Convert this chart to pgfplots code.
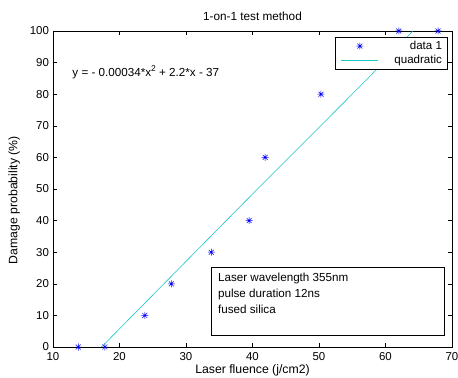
\documentclass[border=0pt]{standalone}
\usepackage{pgfplots}
\pgfplotsset{compat=1.18}
\usepackage{fontspec}
\setmainfont{Liberation Sans}
\definecolor{mblue}{rgb}{0,0,1}
\definecolor{mcyan}{rgb}{0.1,0.78,0.78}
\pgfdeclareplotmark{mstar}{%
  \pgfpathmoveto{\pgfqpoint{-\pgfplotmarksize}{0pt}}\pgfpathlineto{\pgfqpoint{\pgfplotmarksize}{0pt}}%
  \pgfpathmoveto{\pgfqpoint{0pt}{-\pgfplotmarksize}}\pgfpathlineto{\pgfqpoint{0pt}{\pgfplotmarksize}}%
  \pgfpathmoveto{\pgfqpoint{-0.7\pgfplotmarksize}{-0.7\pgfplotmarksize}}\pgfpathlineto{\pgfqpoint{0.7\pgfplotmarksize}{0.7\pgfplotmarksize}}%
  \pgfpathmoveto{\pgfqpoint{-0.7\pgfplotmarksize}{0.7\pgfplotmarksize}}\pgfpathlineto{\pgfqpoint{0.7\pgfplotmarksize}{-0.7\pgfplotmarksize}}%
  \pgfusepathqstroke}
\begin{document}
\fontsize{11.7}{14}\selectfont
\begin{tikzpicture}
\path[use as bounding box] (-53bp,-31bp) rectangle (405bp,347bp);
\begin{axis}[
  at={(0,0)}, anchor=south west,
  scale only axis, width=399bp, height=316bp,
  xmin=10, xmax=70, ymin=0, ymax=100,
  xtick={10,20,...,70}, ytick={0,10,...,100},
  tick align=inside, major tick length=4bp,
  tick style={black, line width=0.4pt},
  axis line style={black, line width=0.5pt},
  /pgf/number format/assume math mode=true,
  ticklabel style={font=\fontsize{11.5}{13}\selectfont},
  xticklabel style={yshift=-1bp},
  label style={font=\fontsize{12.3}{14}\selectfont},
  title style={font=\fontsize{11.8}{14}\selectfont, yshift=0bp},
  title={1-on-1 test method},
  xlabel={Laser fluence (j/cm2)},
  ylabel={Damage probability (\%)},
  xlabel style={yshift=4bp},
  ylabel style={at={(ticklabel cs:0.465)}, yshift=2bp},
  legend style={at={(0.988,0.98)}, anchor=north east, draw=black, line width=0.5pt,
    font=\fontsize{11.6}{13}\selectfont, inner xsep=3bp, inner ysep=1.5bp, row sep=0bp},
  legend cell align=right,
]
\addplot[only marks, mark=mstar, mark size=3.5bp, color=mblue, line width=0.5pt,
  legend image code/.code={\begin{scope}[shift={(0.75cm,0cm)}, mblue, line width=0.5pt]\pgfsetplotmarksize{3.5bp}\pgfuseplotmark{mstar}\end{scope}\path[draw=none] (0,0) -- (1.9cm,0);}]
coordinates {(13.8,0) (17.8,0) (23.8,10) (27.8,20) (33.8,30) (39.5,40) (41.9,60) (50.3,80) (62.0,100) (67.9,100)};
\addlegendentry{data 1}
\addplot[mcyan, line width=0.6pt, no marks,
  legend image code/.code={\draw[mcyan, line width=0.6pt] (0.1cm,0cm) -- (1.4cm,0cm);\path[draw=none] (0,0) -- (1.9cm,0);}]
coordinates {(17.3,0) (24,14.3) (31.6,30.5) (40,48.4) (51.2,72) (58,86.4) (64.1,100)};
\addlegendentry{quadratic}
\node[anchor=west, inner sep=0pt] at (axis cs:12.9,87) {y = - 0.00034*x\raisebox{0.42em}{\fontsize{8.5}{9}\selectfont 2} + 2.2*x - 37};
\draw[black, line width=0.5pt] (axis cs:33.8,3.8) rectangle (axis cs:68.8,25.3);
\node[anchor=north west, align=left, inner sep=0pt, font=\fontsize{11.7}{16.5}\selectfont] at (axis cs:34.8,23.6) {Laser wavelength 355nm\\pulse duration 12ns\\fused silica};
\end{axis}
\end{tikzpicture}
\end{document}
